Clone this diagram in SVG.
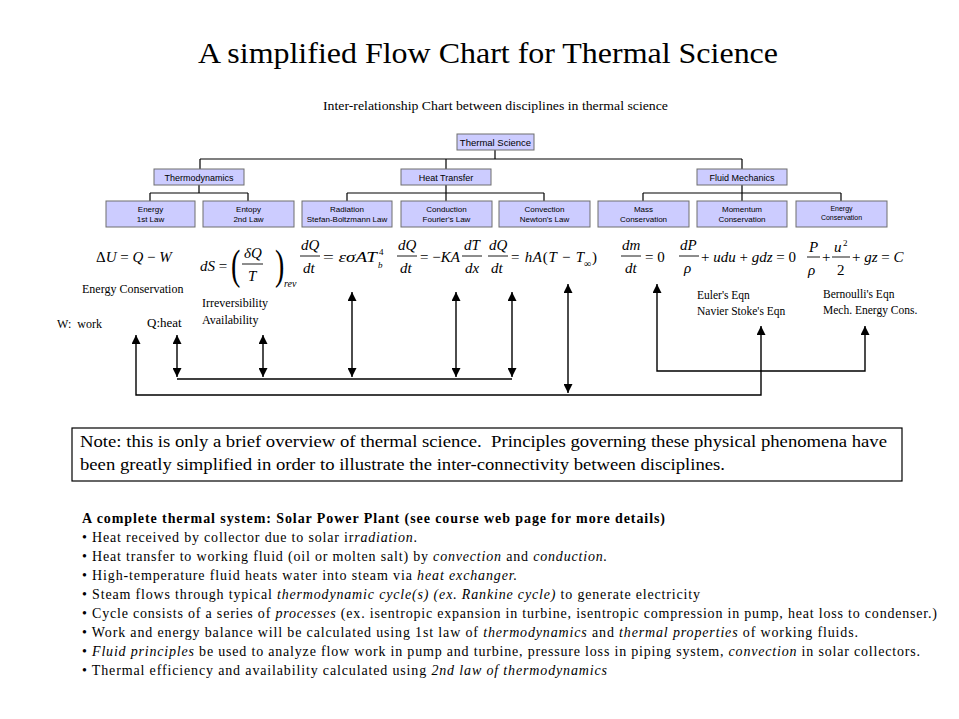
<svg xmlns="http://www.w3.org/2000/svg" width="959" height="719" viewBox="0 0 959 719">
<style>
.serif{font-family:"Liberation Serif","Times New Roman",serif;fill:#000}
.sans{font-family:"Liberation Sans",Arial,sans-serif;fill:#000;text-anchor:middle}
.box{fill:#ccccff;stroke:#6e6e6e;stroke-width:1}
.tl{fill:none;stroke:#000;stroke-width:1.2}
.ar{fill:none;stroke:#000;stroke-width:1.4}
.eq{font-family:"Liberation Serif","Times New Roman",serif;font-size:15px;fill:#000}
.it{font-style:italic}
.fl{stroke:#000;stroke-width:0.9}
.lbl{font-family:"Liberation Serif","Times New Roman",serif;font-size:12px;fill:#000}
.body{font-family:"Liberation Serif","Times New Roman",serif;font-size:14px;fill:#000}
</style>
<defs>
<marker id="ah" viewBox="0 0 10 10" refX="10" refY="5" markerUnits="userSpaceOnUse" markerWidth="11" markerHeight="9" orient="auto-start-reverse">
<path d="M0,0 L10,5 L0,10 z" fill="#000"/>
</marker>
</defs>
<rect width="959" height="719" fill="#fff"/>

<text class="serif" x="488" y="63" font-size="29" text-anchor="middle" textLength="580" lengthAdjust="spacingAndGlyphs">A simplified Flow Chart for Thermal Science</text>
<text class="serif" x="323" y="110" font-size="12" textLength="345" lengthAdjust="spacingAndGlyphs">Inter-relationship Chart between disciplines in thermal science</text>

<g id="tree-connectors">
<path class="tl" d="M495,150 V159 M200,159 H742 M200,159 V169 M446,159 V169 M742,159 V169"/>
<path class="tl" d="M199,185 V193 M150,193 H248 M150,193 V201 M248,193 V201"/>
<path class="tl" d="M446,185 V193 M347,193 H544 M347,193 V201 M446,193 V201 M544,193 V201"/>
<path class="tl" d="M742,185 V193 M643,193 H841 M643,193 V201 M742,193 V201 M841,193 V201"/>
</g>

<g id="thermal-science"><rect class="box" x="457" y="134" width="77" height="16"/><text class="sans" x="495.5" y="145.5" font-size="9.5">Thermal Science</text></g>
<g id="thermodynamics"><rect class="box" x="154" y="169" width="90" height="16"/><text class="sans" x="199" y="180.5" font-size="9">Thermodynamics</text></g>
<g id="heat-transfer"><rect class="box" x="401" y="169" width="90" height="16"/><text class="sans" x="446" y="180.5" font-size="9">Heat Transfer</text></g>
<g id="fluid-mechanics"><rect class="box" x="697" y="169" width="90" height="16"/><text class="sans" x="742" y="180.5" font-size="9">Fluid Mechanics</text></g>

<g id="energy-1st"><rect class="box" x="106" y="201" width="89" height="26"/><text class="sans" x="150.5" y="211.5" font-size="8">Energy</text><text class="sans" x="150.5" y="221.5" font-size="8">1st Law</text></g>
<g id="entropy-2nd"><rect class="box" x="203" y="201" width="91" height="26"/><text class="sans" x="248.5" y="211.5" font-size="8">Entopy</text><text class="sans" x="248.5" y="221.5" font-size="8">2nd Law</text></g>
<g id="radiation"><rect class="box" x="302" y="201" width="90" height="26"/><text class="sans" x="347" y="211.5" font-size="8">Radiation</text><text class="sans" x="347" y="221.5" font-size="8">Stefan-Boltzmann Law</text></g>
<g id="conduction"><rect class="box" x="401" y="201" width="91" height="26"/><text class="sans" x="446.5" y="211.5" font-size="8">Conduction</text><text class="sans" x="446.5" y="221.5" font-size="8">Fourier's Law</text></g>
<g id="convection"><rect class="box" x="499" y="201" width="91" height="26"/><text class="sans" x="544.5" y="211.5" font-size="8">Convection</text><text class="sans" x="544.5" y="221.5" font-size="8">Newton's Law</text></g>
<g id="mass-conservation"><rect class="box" x="598" y="201" width="91" height="26"/><text class="sans" x="643.5" y="211.5" font-size="8">Mass</text><text class="sans" x="643.5" y="221.5" font-size="8">Conservation</text></g>
<g id="momentum-conservation"><rect class="box" x="697" y="201" width="90" height="26"/><text class="sans" x="742" y="211.5" font-size="8">Momentum</text><text class="sans" x="742" y="221.5" font-size="8">Conservation</text></g>
<g id="energy-conservation"><rect class="box" x="796" y="201" width="91" height="26"/><text class="sans" x="841.5" y="210.5" font-size="7">Energy</text><text class="sans" x="841.5" y="219.5" font-size="7">Conservation</text></g>

<g id="equations">
<text class="eq" x="96" y="262">Δ<tspan class="it">U</tspan> = <tspan class="it">Q</tspan> − <tspan class="it">W</tspan></text>

<text class="eq" x="200" y="271"><tspan class="it">dS</tspan> =</text>
<text class="serif" x="231" y="279" font-size="43" transform="translate(231,279) scale(0.65,1) translate(-231,-279)">(</text>
<text class="eq it" x="244" y="258">δQ</text>
<line class="fl" x1="242" y1="264" x2="263" y2="264"/>
<text class="eq it" x="248" y="281">T</text>
<text class="serif" x="275" y="279" font-size="43" transform="translate(275,279) scale(0.65,1) translate(-275,-279)">)</text>
<text class="serif it" x="284" y="287" font-size="10">rev</text>

<text class="eq it" x="301" y="250">dQ</text>
<line class="fl" x1="300" y1="256" x2="320" y2="256"/>
<text class="eq it" x="303" y="273">dt</text>
<text class="eq" x="323" y="262" font-size="16" textLength="54" lengthAdjust="spacingAndGlyphs">= <tspan class="it">εσAT</tspan></text>
<text class="serif" x="379" y="255" font-size="9">4</text>
<text class="serif it" x="378" y="268" font-size="9">b</text>

<text class="eq it" x="398" y="250">dQ</text>
<line class="fl" x1="397" y1="256" x2="417" y2="256"/>
<text class="eq it" x="400" y="273">dt</text>
<text class="eq" x="420" y="262">= −<tspan class="it">KA</tspan></text>
<text class="eq it" x="464" y="250">dT</text>
<line class="fl" x1="462" y1="256" x2="482" y2="256"/>
<text class="eq it" x="465" y="273">dx</text>
<text class="eq it" x="489" y="250">dQ</text>
<line class="fl" x1="488" y1="256" x2="508" y2="256"/>
<text class="eq it" x="491" y="273">dt</text>
<text class="eq" x="511" y="262" textLength="73" lengthAdjust="spacing">= <tspan class="it">hA</tspan>(<tspan class="it">T</tspan> − <tspan class="it">T</tspan></text>
<text class="serif" x="584" y="267" font-size="10">∞</text>
<text class="eq" x="592" y="262">)</text>

<text class="eq it" x="622" y="250">dm</text>
<line class="fl" x1="621" y1="256" x2="641" y2="256"/>
<text class="eq it" x="625" y="273">dt</text>
<text class="eq" x="645" y="262">= 0</text>

<text class="eq it" x="680" y="250">dP</text>
<line class="fl" x1="679" y1="256" x2="699" y2="256"/>
<text class="eq it" x="684" y="273">ρ</text>
<text class="eq" x="701" y="262">+ <tspan class="it">udu</tspan> + <tspan class="it">gdz</tspan> = 0</text>

<text class="eq it" x="809" y="252">P</text>
<line class="fl" x1="807" y1="257" x2="820" y2="257"/>
<text class="eq it" x="808" y="275">ρ</text>
<text class="eq" x="822" y="262">+</text>
<text class="eq it" x="834" y="252">u</text>
<text class="serif" x="843" y="246" font-size="9">2</text>
<line class="fl" x1="832" y1="257" x2="850" y2="257"/>
<text class="eq" x="837" y="275">2</text>
<text class="eq" x="852" y="262">+ <tspan class="it">gz</tspan> = <tspan class="it">C</tspan></text>
</g>

<g id="labels">
<text class="lbl" x="82" y="293">Energy Conservation</text>
<text class="lbl" x="57" y="328" xml:space="preserve">W:  work</text>
<text class="serif" x="147" y="327" font-size="13">Q:heat</text>
<text class="lbl" x="202" y="307">Irreversibility</text>
<text class="lbl" x="202" y="324">Availability</text>
<text class="serif" x="697" y="299" font-size="11.5">Euler's Eqn</text>
<text class="serif" x="697" y="315" font-size="11.5">Navier Stoke's Eqn</text>
<text class="serif" x="823" y="298" font-size="11.5">Bernoulli's Eqn</text>
<text class="serif" x="823" y="314" font-size="11.5">Mech. Energy Cons.</text>
</g>

<g id="connectors">
<path class="ar" d="M177,335 V377" marker-start="url(#ah)" marker-end="url(#ah)"/>
<path class="ar" d="M263,335 V377" marker-start="url(#ah)" marker-end="url(#ah)"/>
<path class="ar" d="M352,292 V377" marker-start="url(#ah)" marker-end="url(#ah)"/>
<path class="ar" d="M456,292 V377" marker-start="url(#ah)" marker-end="url(#ah)"/>
<path class="ar" d="M512,292 V377" marker-start="url(#ah)" marker-end="url(#ah)"/>
<path class="ar" d="M177,379 H512"/>
<path class="ar" d="M568,284 V393" marker-start="url(#ah)" marker-end="url(#ah)"/>
<path class="ar" d="M136,335 V395 H761 V326" marker-start="url(#ah)" marker-end="url(#ah)"/>
<path class="ar" d="M657,284 V371 H865 V326" marker-start="url(#ah)" marker-end="url(#ah)"/>
</g>

<g id="note">
<rect x="72" y="428" width="830" height="53" fill="#fff" stroke="#000" stroke-width="1.2"/>
<text class="serif" x="80" y="447" font-size="16" textLength="807" lengthAdjust="spacingAndGlyphs" xml:space="preserve">Note: this is only a brief overview of thermal science.  Principles governing these physical phenomena have</text>
<text class="serif" x="80" y="470" font-size="16" textLength="645" lengthAdjust="spacingAndGlyphs">been greatly simplified in order to illustrate the inter-connectivity between disciplines.</text>
</g>

<g id="system-text">
<text class="body" x="82" y="523" font-weight="bold" textLength="583">A complete thermal system: Solar Power Plant (see course web page for more details)</text>
<text class="body" x="82" y="542" textLength="335">• Heat received by collector due to solar ir<tspan class="it">radiation</tspan>.</text>
<text class="body" x="82" y="561" textLength="525">• Heat transfer to working fluid (oil or molten salt) by <tspan class="it">convection</tspan> and <tspan class="it">conduction.</tspan></text>
<text class="body" x="82" y="580" textLength="435">• High-temperature fluid heats water into steam via <tspan class="it">heat exchanger.</tspan></text>
<text class="body" x="82" y="599" textLength="618">• Steam flows through typical <tspan class="it">thermodynamic cycle(s) (ex. Rankine cycle)</tspan> to generate electricity</text>
<text class="body" x="82" y="618" textLength="855">• Cycle consists of a series of <tspan class="it">processes</tspan> (ex. isentropic expansion in turbine, isentropic compression in pump, heat loss to condenser.)</text>
<text class="body" x="82" y="637" textLength="776">• Work and energy balance will be calculated using 1st law of <tspan class="it">thermodynamics</tspan> and <tspan class="it">thermal properties</tspan> of working fluids.</text>
<text class="body" x="82" y="656" textLength="838">• <tspan class="it">Fluid principles</tspan> be used to analyze flow work in pump and turbine, pressure loss in piping system, <tspan class="it">convection</tspan> in solar collectors.</text>
<text class="body" x="82" y="675" textLength="525">• Thermal efficiency and availability calculated using <tspan class="it">2nd law of thermodynamics</tspan></text>
</g>
</svg>
